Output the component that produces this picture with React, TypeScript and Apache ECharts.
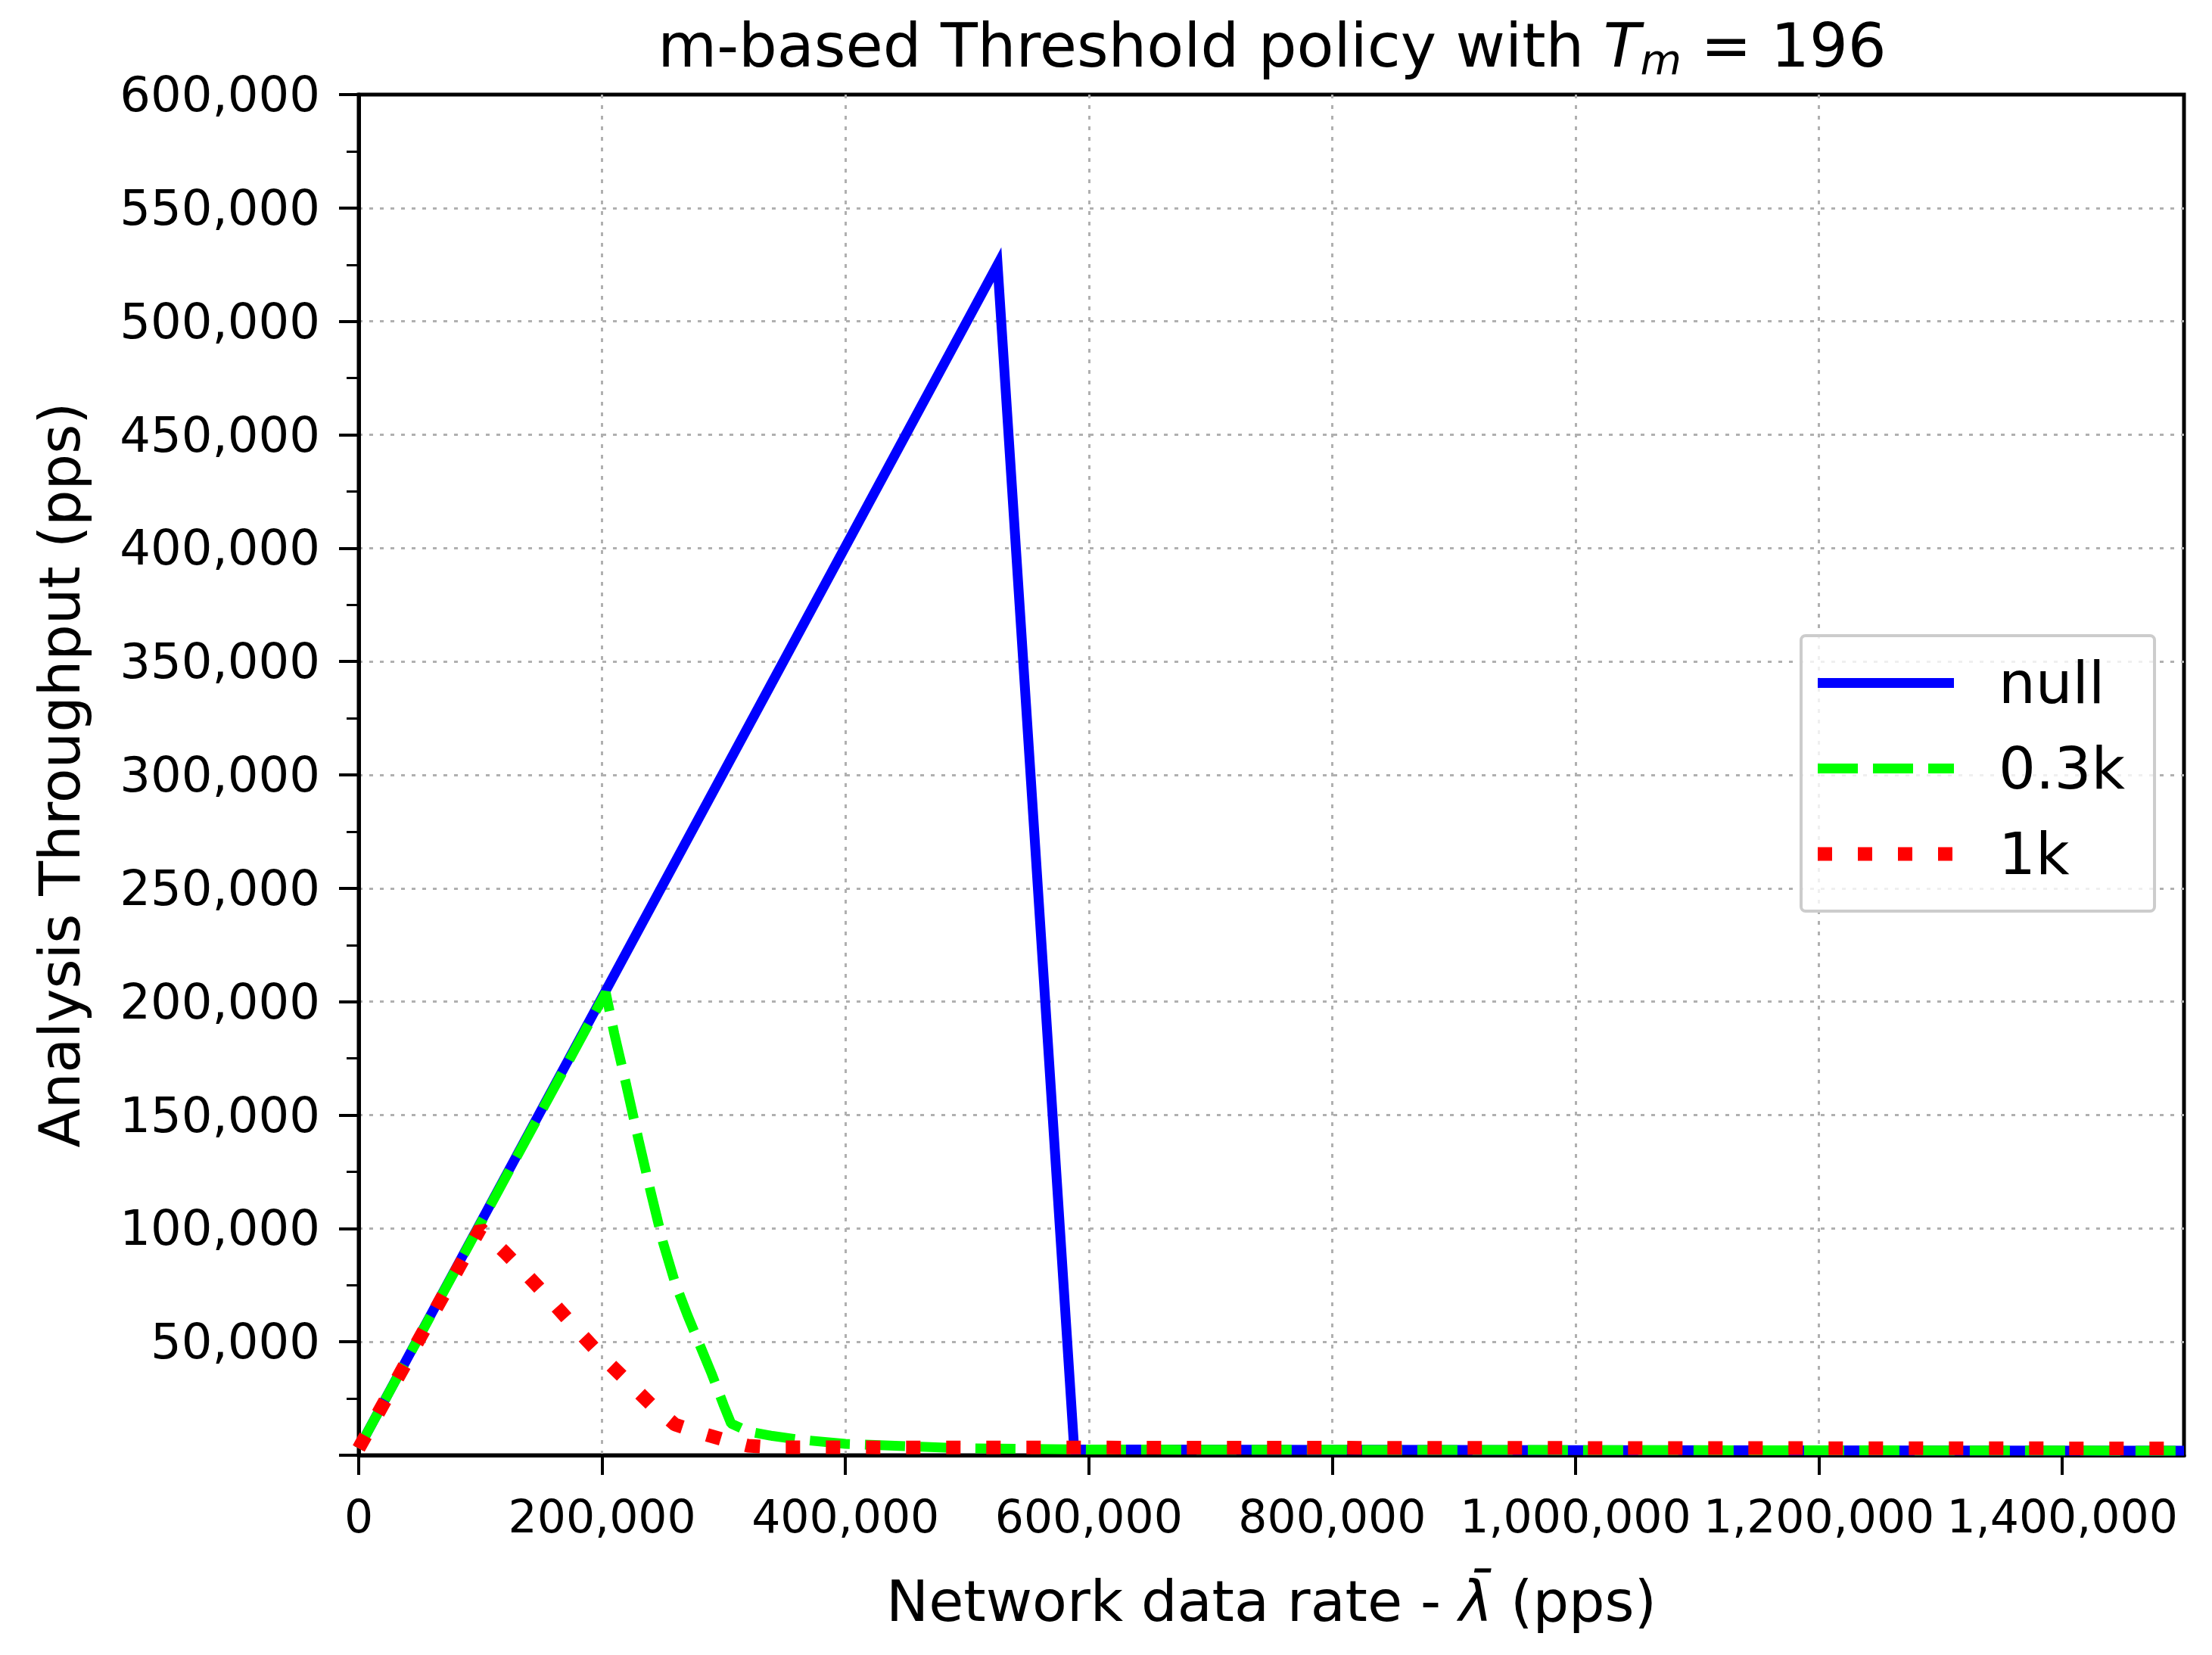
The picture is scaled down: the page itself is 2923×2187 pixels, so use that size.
import React, { useEffect, useRef } from 'react';
import * as echarts from 'echarts';

const FONT = 'DejaVu Sans';

const xTicks = [0, 200000, 400000, 600000, 800000, 1000000, 1200000, 1400000];
const yTicks = [0, 50000, 100000, 150000, 200000, 250000, 300000, 350000, 400000, 450000, 500000, 550000, 600000];
const xMax = 1500000;
const yMax = 600000;

const seriesNames = ['null', '0.3k', '1k'];
const seriesColors = ['#0000ff', '#00ff00', '#ff0000'];

const nullData = [
  [0, 3000],
  [525000, 525000],
  [588000, 2500],
  [1500000, 2000],
];

const k03Data = [
  [0, 3000],
  [203000, 204000],
  [210000, 186000],
  [220000, 163000],
  [230000, 139000],
  [240000, 116000],
  [250000, 94000],
  [260000, 76000],
  [270000, 62000],
  [280000, 49000],
  [290000, 36000],
  [300000, 22000],
  [306000, 14000],
  [320000, 10500],
  [340000, 8500],
  [360000, 7000],
  [400000, 5000],
  [450000, 4000],
  [500000, 3000],
  [600000, 2500],
  [1500000, 2000],
];

const k1Data = [
  [0, 3000],
  [100000, 100000],
  [120000, 89500],
  [140000, 78500],
  [160000, 67000],
  [180000, 55000],
  [200000, 43500],
  [220000, 33000],
  [240000, 22500],
  [260000, 13500],
  [280000, 10000],
  [300000, 6800],
  [320000, 4200],
  [340000, 3500],
  [1500000, 3000],
];

const fmt = (v: number) => v.toLocaleString('en-US');

export default function App() {
  const ref = useRef<HTMLDivElement>(null);
  useEffect(() => {
    const chart = echarts.init(ref.current!, null, { renderer: 'svg' });
    const gridLine = {
      show: true,
      showMinLine: false,
      showMaxLine: false,
      lineStyle: { color: '#b0b0b0', width: 3, type: [5, 9] as any },
    };
    const lineStyles = [
      { color: seriesColors[0], width: 13, type: 'solid', cap: 'butt', join: 'miter' },
      { color: seriesColors[1], width: 13, type: [53, 20], cap: 'butt' },
      { color: seriesColors[2], width: 18, type: [19, 34], cap: 'butt' },
    ];
    chart.setOption({
      animation: false,
      backgroundColor: '#ffffff',
      textStyle: { fontFamily: FONT },
      title: {
        text: '{a|m-based Threshold policy with }{i|T}{s|m}{a| = 196}',
        left: 1676,
        top: 15,
        textAlign: 'center',
        textStyle: {
          fontFamily: FONT,
          fontWeight: 'normal',
          fontSize: 80,
          color: '#000',
          rich: {
            a: { fontFamily: FONT, fontSize: 80, lineHeight: 80, color: '#000', verticalAlign: 'top' },
            i: { fontFamily: FONT, fontSize: 80, lineHeight: 80, fontStyle: 'italic', color: '#000', verticalAlign: 'top' },
            s: { fontFamily: FONT, fontSize: 56, lineHeight: 56, fontStyle: 'italic', color: '#000', verticalAlign: 'top', padding: [30, 0, 0, 0] },
          },
        },
      },
      grid: {
        left: 474,
        right: 37,
        top: 125,
        bottom: 264,
        containLabel: false,
        show: true,
        borderColor: '#000',
        borderWidth: 5,
        backgroundColor: 'transparent',
      },
      legend: {
        orient: 'vertical',
        left: 2380,
        top: 840,
        data: seriesNames.map((n, i) => ({ name: n, lineStyle: { width: lineStyles[i].width } })),
        itemWidth: 180,
        itemHeight: 20,
        itemGap: 36,
        padding: [24, 39, 37, 13],
        backgroundColor: 'rgba(255,255,255,0.8)',
        borderColor: '#cccccc',
        borderWidth: 4,
        borderRadius: 6,
        itemStyle: { opacity: 0 },
        textStyle: { fontFamily: FONT, fontSize: 77, lineHeight: 77, color: '#000', padding: [0, 0, 0, 54] },
      },
      xAxis: {
        type: 'value',
        min: 0,
        max: xMax,
        interval: 200000,
        name: '{a|Network data rate - }{i|λ̄}{a| (pps)}',
        nameLocation: 'middle',
        nameGap: 155,
        nameTextStyle: {
          fontFamily: FONT,
          fontSize: 75,
          color: '#000',
          rich: {
            a: { fontFamily: FONT, fontSize: 75, color: '#000' },
            i: { fontFamily: FONT, fontSize: 75, fontStyle: 'italic', color: '#000' },
          },
        },
        axisLine: { show: true, onZero: false, lineStyle: { color: '#000', width: 5 } },
        axisTick: { show: true, length: 26, customValues: xTicks, lineStyle: { color: '#000', width: 4 } },
        axisLabel: {
          show: true,
          customValues: xTicks,
          margin: 51,
          fontFamily: FONT,
          fontSize: 60,
          color: '#000',
          formatter: (v: number) => fmt(v),
        },
        splitLine: gridLine,
        minorTick: { show: false },
      },
      yAxis: {
        type: 'value',
        min: 0,
        max: yMax,
        interval: 50000,
        name: 'Analysis Throughput (pps)',
        nameLocation: 'middle',
        nameGap: 358,
        nameTextStyle: { fontFamily: FONT, fontSize: 75, color: '#000' },
        axisLine: { show: true, onZero: false, lineStyle: { color: '#000', width: 5 } },
        axisTick: { show: true, length: 26, lineStyle: { color: '#000', width: 4 } },
        minorTick: { show: true, splitNumber: 2, length: 16, lineStyle: { color: '#000', width: 3 } },
        axisLabel: {
          show: true,
          margin: 51,
          fontFamily: FONT,
          fontSize: 64,
          color: '#000',
          formatter: (v: number) => (v === yTicks[0] ? '' : fmt(v)),
        },
        splitLine: gridLine,
      },
      series: [
        {
          name: seriesNames[0],
          type: 'line',
          data: nullData,
          showSymbol: false,
          symbol: 'none',
          itemStyle: { color: seriesColors[0] },
          lineStyle: lineStyles[0],
        },
        {
          name: seriesNames[1],
          type: 'line',
          data: k03Data,
          showSymbol: false,
          symbol: 'none',
          itemStyle: { color: seriesColors[1] },
          lineStyle: lineStyles[1],
        },
        {
          name: seriesNames[2],
          type: 'line',
          data: k1Data,
          showSymbol: false,
          symbol: 'none',
          itemStyle: { color: seriesColors[2] },
          lineStyle: lineStyles[2],
        },
      ],
    });
    return () => chart.dispose();
  }, []);
  return (
    <div
      ref={ref}
      style={{ position: 'fixed', left: 0, top: 0, width: 2923, height: 2187, background: '#fff' }}
    />
  );
}
